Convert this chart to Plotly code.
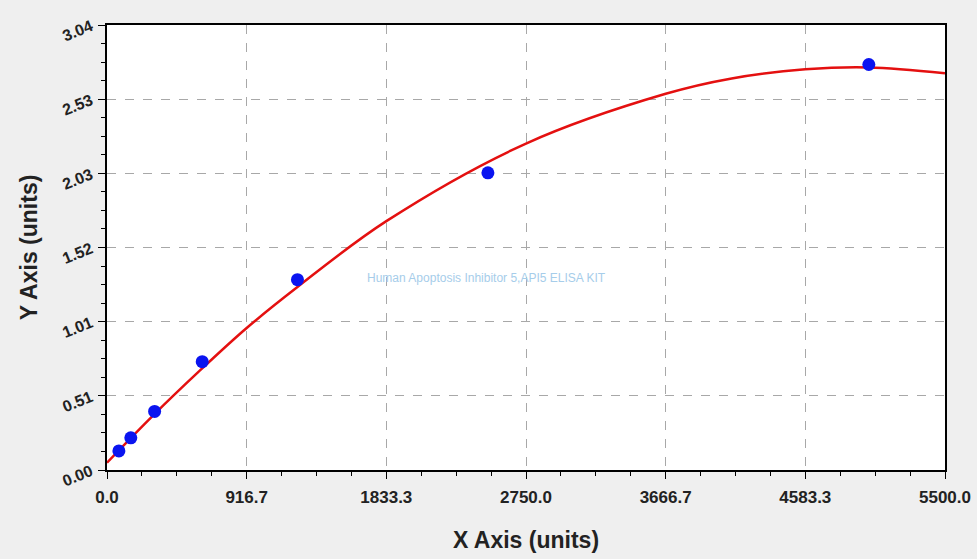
import plotly.graph_objects as go

# standard points (concentration vs OD)
std_x = [78.125, 156.25, 312.5, 625, 1250, 2500, 5000]
std_y = [0.13, 0.22, 0.40, 0.74, 1.30, 2.03, 2.77]

# fitted curve
fit_x = [0, 300, 600, 916.7, 1250, 1833.3, 2750, 3666.7, 4100, 4583.3, 5000, 5500]
fit_y = [0.05, 0.37, 0.67, 0.97, 1.25, 1.70, 2.23, 2.57, 2.675, 2.737, 2.75, 2.71]

x_ticks = [0, 916.7, 1833.3, 2750.0, 3666.7, 4583.3, 5500.0]
x_labels = ["0.0", "916.7", "1833.3", "2750.0", "3666.7", "4583.3", "5500.0"]
y_ticks = [0, 0.5067, 1.0133, 1.52, 2.0267, 2.5333, 3.04]
y_labels = ["0.00", "0.51", "1.01", "1.52", "2.03", "2.53", "3.04"]

watermark = "Human Apoptosis Inhibitor 5,API5 ELISA KIT"

fig = go.Figure()
fig.add_trace(go.Scatter(x=fit_x, y=fit_y, mode="lines", line=dict(color="#e41010", width=2.5, shape="spline"),
                         hoverinfo="skip"))
fig.add_trace(go.Scatter(x=std_x, y=std_y, mode="markers", marker=dict(color="#0a14f0", size=13)))

common = dict(showline=True, linecolor="black", linewidth=1.5, mirror=True,
              showgrid=True, gridcolor="#a8a8a8", griddash="dash", gridwidth=1,
              ticks="outside", ticklen=7, tickcolor="black", zeroline=False, automargin=False,
              ticklabelstandoff=4)
title_font = dict(family="Liberation Sans, Arial", size=23, color="#222222")

fig.update_xaxes(range=[0, 5500], tickmode="array", tickvals=x_ticks, ticktext=x_labels,
                 tickfont=dict(family="Liberation Sans, Arial", size=17, color="#222222", weight="bold"),
                 minor=dict(ticks="outside", ticklen=4, tickcolor="black", dtick=5500 / 24, tick0=0, showgrid=False),
                 title=dict(text="<b>X Axis (units)</b>", font=title_font, standoff=26),
                 **common)
fig.update_yaxes(range=[0, 3.04], tickmode="array", tickvals=y_ticks, ticktext=y_labels, tickangle=-22,
                 tickfont=dict(family="Liberation Sans, Arial", size=16, color="#222222", weight="bold"),
                 minor=dict(ticks="outside", ticklen=4, tickcolor="black", dtick=3.04 / 24, tick0=0, showgrid=False),
                 title=dict(text="<b>Y Axis (units)</b>", font=title_font, standoff=16),
                 **common)

fig.add_annotation(x=0.453, y=0.432, xref="paper", yref="paper", text=watermark, showarrow=False,
                   font=dict(family="Liberation Sans, Arial", size=12, color="#a6cdea"))

fig.update_layout(width=977, height=559, showlegend=False,
                  paper_bgcolor="#efefef", plot_bgcolor="white",
                  margin=dict(l=107, r=32, t=25, b=89))

fig.write_html("out.html", config={"displayModeBar": False},
               post_script="document.body.style.margin='0';document.body.style.overflow='hidden';")
